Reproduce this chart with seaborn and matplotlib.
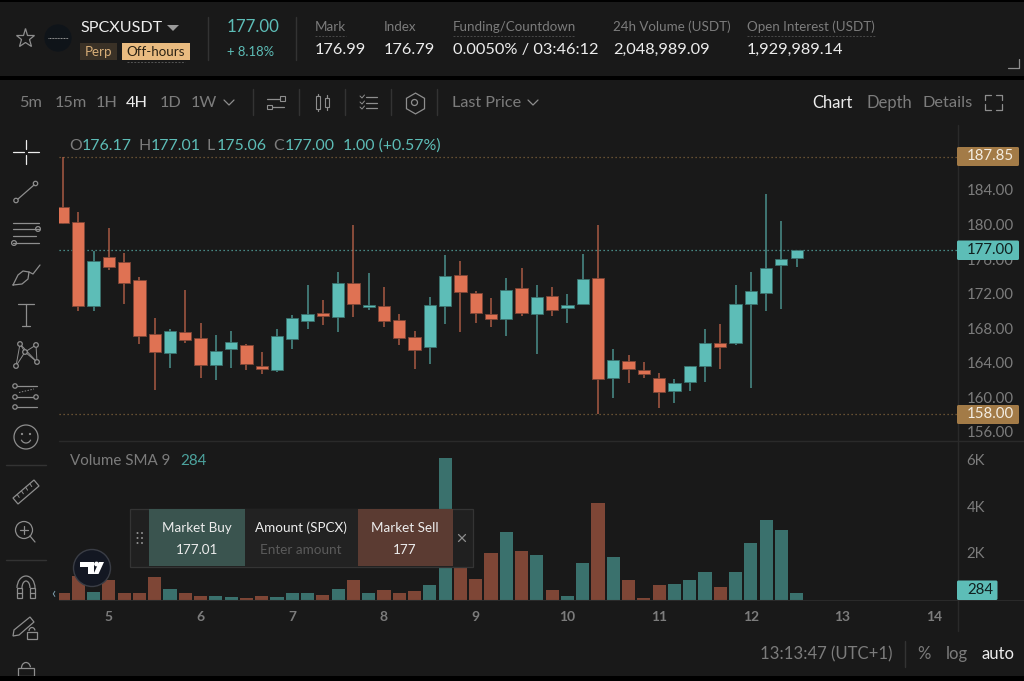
import numpy as np
import pandas as pd
import matplotlib
matplotlib.use("Agg")
import matplotlib.pyplot as plt
from matplotlib.patches import Rectangle, Circle, Polygon, Arc, FancyBboxPatch
import seaborn as sns

# ---- market data: one 4H candle per row position ----
opens = [181.99, 180.25, 170.60, 176.28, 175.70, 173.53, 167.36, 165.08, 167.59, 166.82,
         163.76, 165.54, 166.08, 163.61, 163.11, 166.78, 168.78, 169.75, 169.32, 173.26,
         170.48, 170.60, 168.97, 166.93, 165.81, 170.60, 174.19, 172.10, 169.63, 169.09,
         172.68, 169.67, 171.68, 170.33, 170.83, 173.75, 162.22, 164.15, 163.11, 162.18,
         160.67, 161.72, 163.57, 166.23, 166.23, 170.75, 172.06, 175.27, 176.17]
closes = [180.22, 170.60, 175.78, 175.08, 173.26, 167.05, 165.27, 167.63, 166.58, 163.76,
          165.31, 166.35, 163.88, 163.30, 167.08, 169.17, 169.63, 169.44, 173.18, 170.83,
          170.67, 168.82, 166.85, 165.50, 170.63, 174.00, 172.14, 169.79, 169.09, 172.37,
          169.79, 171.64, 170.13, 170.63, 173.73, 162.06, 164.27, 163.26, 162.72, 160.60,
          161.60, 163.61, 166.23, 165.81, 170.75, 172.30, 174.96, 175.97, 177.00]
highs = [187.85, 181.45, 176.93, 179.56, 176.74, 173.88, 169.13, 167.86, 172.41, 168.59,
         167.16, 167.63, 166.12, 165.27, 167.86, 169.48, 172.95, 171.25, 174.46, 179.94,
         174.34, 172.72, 169.63, 167.66, 171.64, 176.47, 175.77, 172.30, 171.52, 173.76,
         174.92, 172.95, 172.72, 171.95, 176.54, 179.94, 165.54, 164.84, 164.03, 162.84,
         162.06, 163.61, 167.90, 168.47, 172.95, 174.50, 183.50, 180.41, 177.01]
lows = [180.10, 170.02, 170.02, 174.73, 170.83, 166.20, 160.83, 163.38, 166.23, 162.18,
        161.99, 163.38, 163.15, 162.72, 162.95, 165.62, 167.86, 168.40, 167.58, 169.32,
        170.13, 168.09, 166.08, 163.22, 163.88, 168.47, 167.58, 168.59, 168.12, 167.08,
        169.40, 164.99, 169.40, 168.63, 170.83, 158.00, 159.90, 161.68, 162.18, 158.78,
        159.36, 160.71, 161.75, 163.30, 166.08, 161.06, 170.02, 170.17, 175.06]
volumes = [290, 1000, 315, 830, 290, 290, 950, 460, 290, 145,
           130, 100, 85, 130, 100, 260, 290, 200, 460, 860,
           300, 400, 290, 345, 630, 6090, 1700, 900, 2010, 2910,
           2090, 1920, 400, 170, 1560, 4130, 1820, 860, 85, 620,
           660, 820, 1180, 545, 1200, 2450, 3400, 3010, 284]

price_ticks = [156, 160, 164, 168, 172, 176, 180, 184]
volume_ticks = [2000, 4000, 6000]
volume_tick_labels = ["2K", "4K", "6K"]
day_positions = [3, 9, 15, 21, 27, 33, 39, 45, 51, 57]
day_labels = ["5", "6", "7", "8", "9", "10", "11", "12", "13", "14"]
session_high, last_price, session_low = 187.85, 177.00, 158.00

# ---- palette ----
BG = "#191919"
UP, DOWN = "#5DBDB7", "#DF7253"
UP_DIM, DOWN_DIM = "#3A716D", "#7E4636"
GOLD = "#A37B47"
GRID = "#2A2A2A"
MUTED = "#7C7C7C"
WHITE = "#EDEDED"

sns.set_theme(style="dark", rc={"axes.facecolor": BG, "figure.facecolor": BG,
                                "savefig.facecolor": BG})
plt.rcParams["font.family"] = ["Lato", "DejaVu Sans"]

W, H = 1024, 681
fig = plt.figure(figsize=(W / 100, H / 100), dpi=100)


def axes_px(left, top, right, bottom, **kw):
    return fig.add_axes([left / W, 1 - bottom / H, (right - left) / W, (bottom - top) / H], **kw)


frame = pd.DataFrame({"idx": np.arange(len(opens)), "open": opens, "close": closes,
                      "high": highs, "low": lows, "volume": volumes})
frame["side"] = np.where(frame["close"] >= frame["open"], "up", "down")
frame["base"] = frame[["open", "close"]].min(axis=1)
frame["body"] = (frame["close"] - frame["open"]).abs()

x_limits = (-0.262, 58.49)

# ---- price pane ----
ax_p = axes_px(59, 125, 957, 441)
ax_p.set_facecolor(BG)
for side, main, dim in (("up", UP, UP_DIM), ("down", DOWN, DOWN_DIM)):
    part = frame[frame["side"] == side]
    ax_p.vlines(part["idx"], part["low"], part["high"], color=main, lw=1.1, alpha=0.72, zorder=2)
    sns.barplot(x=part["idx"].to_numpy(), y=part["body"].to_numpy(), bottom=part["base"].to_numpy(),
                native_scale=True, color=main, saturation=1, width=0.80, ax=ax_p,
                edgecolor=dim, linewidth=0.6, zorder=3)
for level, col in ((session_high, "#8A6A3E"), (session_low, "#8A6A3E"), (last_price, UP)):
    ax_p.axhline(level, color=col, lw=0.9, ls=(0, (1, 2.2)), alpha=0.9, zorder=1)
ax_p.set_xlim(*x_limits)
ax_p.set_ylim(154.91, 191.53)
ax_p.set_xticks([])
ax_p.set_xlabel("")
ax_p.yaxis.tick_right()
ax_p.set_yticks(price_ticks)
ax_p.set_yticklabels([f"{v:.2f}" for v in price_ticks], fontsize=10.8, color=MUTED)
ax_p.tick_params(axis="y", length=0, pad=7)
ax_p.set_ylabel("")
for s in ax_p.spines.values():
    s.set_visible(False)

# ---- volume pane ----
ax_v = axes_px(59, 441, 957, 599.5)
ax_v.set_facecolor(BG)
sns.barplot(data=frame, x="idx", y="volume", hue="side", native_scale=True, dodge=False,
            palette={"up": UP_DIM, "down": DOWN_DIM}, saturation=1, width=0.86,
            legend=False, ax=ax_v, linewidth=0)
ax_v.set_xlim(*x_limits)
ax_v.set_ylim(0, 6817)
ax_v.set_xticks(day_positions)
ax_v.set_xticklabels(day_labels, fontsize=10, color=MUTED, fontweight="bold")
ax_v.tick_params(axis="x", length=0, pad=8.5)
ax_v.yaxis.tick_right()
ax_v.set_yticks(volume_ticks)
ax_v.set_yticklabels(volume_tick_labels, fontsize=10.8, color=MUTED)
ax_v.tick_params(axis="y", length=0, pad=7)
ax_v.set_xlabel("")
ax_v.set_ylabel("")
for s in ax_v.spines.values():
    s.set_visible(False)

# ---- interface overlay, addressed in screen pixels ----
ui = fig.add_axes([0, 0, 1, 1], zorder=5)
ui.set_xlim(0, W)
ui.set_ylim(H, 0)
ui.axis("off")
ui.patch.set_alpha(0)


def t(x, y, s, size=10.2, color=WHITE, ha="left", **kw):
    ui.text(x, y + 1.2, s, fontsize=size, color=color, ha=ha, va="center", **kw)


def ln(xs, ys, color="#8E8E8E", lw=0.9, **kw):
    ui.plot(xs, ys, color=color, lw=lw, solid_capstyle="round", **kw)


def box(x0, y0, x1, y1, fc, ec="none", lw=0.0, z=2):
    ui.add_patch(Rectangle((x0, y0), x1 - x0, y1 - y0, fc=fc, ec=ec, lw=lw, zorder=z))


def tag(x0, y0, x1, y1, fc):
    ui.add_patch(FancyBboxPatch((x0, y0), x1 - x0, y1 - y0, fc=fc, ec="none", zorder=3,
                                boxstyle="round,pad=0,rounding_size=1.5"))


def ring(x, y, r, color="#8E8E8E", lw=0.9, fc="none"):
    ui.add_patch(Circle((x, y), r, fc=fc, ec=color, lw=lw, zorder=3))


# black separator bands
box(0, 0, W, 1.5, "#000000")
box(0, 75.5, W, 80, "#000000")
box(0, 676, W, H, "#000000")

# header strip
ui.plot(25, 38, marker="*", mfc="none", mec="#8E8E8E", ms=14, mew=0.9)
ring(58, 38, 13, color="#0F1419", fc="#0F1419")
ui.plot([48, 68], [38, 38], color="#9A9A9A", lw=0.7, ls=(0, (1, 0.6)), zorder=4)
t(80, 27, "SPCXUSDT", size=11.6)
ui.add_patch(Polygon([(167, 25), (179, 25), (173, 31)], fc="#9A9A9A", ec="none"))
box(80, 43, 117, 60, "#3A3126")
t(98.5, 51, "Perp", size=9.6, color="#D8AE78", ha="center")
box(122, 43, 190, 60, "#E9BB80")
t(156, 51, "Off-hours", size=9.6, color="#2A2113", ha="center")
ln([127, 185], [61.5, 61.5], color="#555555", lw=0.7, ls=(0, (2, 1.5)))
ln([208, 208], [17, 60], color="#333333", lw=1)
t(227, 26, "177.00", size=12.2, color=UP)
t(227, 51, "+ 8.18%", size=9.4, color=UP)
ln([296, 296], [17, 60], color="#333333", lw=1)

header_cols = [(315, "Mark", "176.99", 346), (384, "Index", "176.79", None),
               (453, "Funding/Countdown", "0.0050% / 03:46:12", 574),
               (613, "24h Volume (USDT)", "2,048,989.09", None),
               (747, "Open Interest (USDT)", "1,929,989.14", 875)]
for x, head, val, dash_end in header_cols:
    t(x, 25.5, head, size=9.6, color=MUTED)
    t(x, 49, val, size=11.8)
    if dash_end:
        ln([x, dash_end], [35.5, 35.5], color="#4A4A4A", lw=0.7, ls=(0, (2, 1.5)))
ln([1008, 1019, 1019], [68, 68, 59], color="#8E8E8E", lw=0.9)

# toolbar
for x, label, col in [(19, "5m", MUTED), (55, "15m", MUTED), (96, "1H", MUTED), (126, "4H", WHITE),
                      (160, "1D", MUTED), (191, "1W", MUTED)]:
    t(x, 101.5, label, size=11.8, color=col)
ln([224, 229, 234], [100, 105, 100])
for x in (252.5, 298.5, 345, 391, 437):
    ln([x, x], [89, 115], color="#333333", lw=1)
ln([267, 280], [99, 99]); ln([267, 284], [107, 107])
ui.add_patch(Rectangle((280, 96), 5, 4.5, fc="none", ec="#8E8E8E", lw=0.8))
ui.add_patch(Rectangle((267, 104.5), 5, 4.5, fc=BG, ec="#8E8E8E", lw=0.8, zorder=3))
for x, y0, y1, w0, w1 in ((318, 96, 109, 94, 111), (327, 98, 107, 95, 110)):
    ui.add_patch(Rectangle((x - 2.2, y0), 4.4, y1 - y0, fc="none", ec="#8E8E8E", lw=0.8))
    ln([x, x], [w0, y0]); ln([x, x], [y1, w1])
for y in (97, 103, 108):
    ln([366, 377], [y, y])
    ln([360, 362, 364.5], [y - 1, y + 1, y - 2], lw=0.7)
ui.plot(414.5, 102.5, marker="h", mfc="none", mec="#8E8E8E", ms=15, mew=0.9)
ring(414.5, 102.5, 3)
t(452, 101.5, "Last Price", size=11.7, color=MUTED)
ln([528, 533, 538], [100, 105, 100])
t(812, 101.5, "Chart", size=12, color=WHITE)
t(866, 101.5, "Depth", size=12, color=MUTED)
t(923, 101.5, "Details", size=11.8, color=MUTED)
ln([985, 985, 991], [100, 95, 95]); ln([996, 1002, 1002], [95, 95, 100])
ln([985, 985, 991], [104, 110, 110]); ln([996, 1002, 1002], [110, 110, 104])

# O/H/L/C readout
for x, s, c in [(69, "O", MUTED), (82, "176.17", UP), (138, "H", MUTED), (151, "177.01", UP),
                (207, "L", MUTED), (217, "175.06", UP), (273, "C", MUTED), (285, "177.00", UP),
                (343, "1.00 (+0.57%)", UP)]:
    t(x, 144.5, s, size=11.4, color=c)

# drawing tools column
ln([13, 24], [152, 152], color=WHITE); ln([28, 39], [152, 152], color=WHITE)
ln([26, 26], [140, 149], color=WHITE); ln([26, 26], [155, 164], color=WHITE)
ln([18, 34], [199, 185]); ring(16, 200.5, 2.2); ring(35.5, 183.5, 2.2)
for y, x0, x1 in ((223, 13, 39), (229, 13, 39), (236, 13, 36), (243, 13, 39)):
    ln([x0, x1], [y, y])
ring(38, 229, 2.4); ring(14, 243, 2.4)
ln([13, 18, 23, 29, 28, 22, 13], [285, 275, 271, 272, 279, 284, 285]); ln([29, 33, 40], [272, 274, 265])
ln([26, 26], [304, 326]); ln([18, 34], [304, 304]); ln([22, 30], [326, 326])
net = [(16, 366), (20, 344), (25, 352), (36, 345), (37, 362)]
for a, b in [(0, 1), (1, 2), (2, 3), (3, 4), (2, 4), (0, 2), (1, 4)]:
    ln([net[a][0], net[b][0]], [net[a][1], net[b][1]], lw=0.7)
for x, y in net:
    ring(x, y, 2.3, fc=BG)
for y in (386, 397, 407):
    ln([17, 37], [y, y])
    ring(15, y, 2.2, fc=BG)
ring(36, 397, 2.2, fc=BG)
ln([19, 34], [392.5, 389], lw=0.7, ls=(0, (1.5, 1.5)))
ring(26, 437, 12)
ring(22, 434, 0.5); ring(30, 434, 0.5)
ui.add_patch(Arc((26, 438), 10, 10, theta1=20, theta2=160, ec="#8E8E8E", lw=0.9))
ln([6, 46], [465, 465], color="#333333", lw=1)
ui.add_patch(Polygon([(13, 498), (34, 480), (39, 486), (18, 504)], fc="none", ec="#8E8E8E", lw=0.9))
for f in (0.2, 0.4, 0.6, 0.8):
    xb, yb = 13 + 21 * f, 498 - 18 * f
    ln([xb, xb + 2], [yb, yb + 3], lw=0.7)
ring(24, 530, 8.5)
ln([20, 28], [530, 530]); ln([24, 24], [526, 534]); ln([30, 35], [536, 542])
ln([6, 46], [560, 560], color="#333333", lw=1)
ui.add_patch(Arc((26, 588), 18, 24, theta1=180, theta2=360, ec="#8E8E8E", lw=0.9))
ui.add_patch(Arc((26, 588), 8, 14, theta1=180, theta2=360, ec="#8E8E8E", lw=0.9))
for a, b in ((17, 22), (30, 35)):
    ui.add_patch(Rectangle((a, 588), b - a, 10, fc="none", ec="#8E8E8E", lw=0.9))
    ln([a, b], [593, 593])
ui.add_patch(Polygon([(14, 630), (30, 617), (34, 622), (19, 635), (13, 636)], fc="none", ec="#8E8E8E", lw=0.9))
ui.add_patch(Rectangle((27, 632), 10, 7, fc=BG, ec="#8E8E8E", lw=0.9, zorder=3))
ui.add_patch(Arc((32, 631), 6, 7, theta1=180, theta2=350, ec="#8E8E8E", lw=0.9))
ui.add_patch(Rectangle((18, 668), 16, 8, fc="none", ec="#8E8E8E", lw=0.9))
ui.add_patch(Arc((26, 668), 9, 11, theta1=180, theta2=350, ec="#8E8E8E", lw=0.9))
t(53, 593, "‹", size=11, color="#7FA0B0", ha="center")

# right-hand price scale tags
ln([957.5, 957.5], [125, 631], color=GRID, lw=1)
ln([59, W], [441, 441], color=GRID, lw=1)
ln([59, W], [599.8, 599.8], color=GRID, lw=0.8)
for y0, y1, fc, s, col in ((147, 166, GOLD, "187.85", "#F4EDE2"),
                           (240.5, 260, UP, "177.00", "#10201F"),
                           (405, 424, GOLD, "158.00", "#F4EDE2")):
    tag(957, y0, 1019, y1, fc)
    ui.text(967, (y0 + y1) / 2, s, fontsize=10.8, color=col, va="center", zorder=4)
tag(957, 580.5, 997.5, 600, UP)
ui.text(967, 590.5, "284", fontsize=10.8, color="#10201F", va="center", zorder=4)

# volume study legend
t(70, 460, "Volume SMA 9", size=10.9, color=MUTED)
t(180, 460, "284", size=10.9, color="#4CA39E")

# quick order panel
box(130, 508.5, 472.5, 566.5, "#202020", ec="#343434", lw=0.9, z=3)
box(149, 509, 245, 566, "#3A544F", z=4)
box(245, 509, 357.5, 566, "#222222", z=4)
box(357.5, 509, 453, 566, "#5B3B32", z=4)
for s, c1, v, c2, x in (("Market Buy", WHITE, "177.01", WHITE, 197),
                        ("Amount (SPCX)", WHITE, "Enter amount", "#5A5A5A", 301),
                        ("Market Sell", WHITE, "177", WHITE, 405)):
    ui.text(x, 527.5, s, fontsize=9.7, color=c1, ha="center", va="center", zorder=6)
    ui.text(x, 549.5, v, fontsize=9.7, color=c2, ha="center", va="center", zorder=6)
for dx in (137.5, 142):
    for dy in (533, 538, 543):
        ui.add_patch(Circle((dx, dy), 1.0, fc="#8E8E8E", ec="none", zorder=6))
ui.plot([458.5, 465.5], [534.5, 541.5], color="#8E8E8E", lw=0.9, zorder=6)
ui.plot([458.5, 465.5], [541.5, 534.5], color="#8E8E8E", lw=0.9, zorder=6)

# broker badge
ui.add_patch(Circle((92, 568), 18.5, fc="#131722", ec="#3A3D45", lw=1, zorder=6))
ui.add_patch(Polygon([(80, 562), (94, 562), (94, 574), (88, 574), (88, 567), (80, 567)],
                     fc="#FFFFFF", ec="none", zorder=7))
ui.add_patch(Circle((96.5, 564), 2.4, fc="#FFFFFF", ec="none", zorder=7))
ui.add_patch(Polygon([(99, 562), (104, 562), (98.5, 574), (93.5, 574)], fc="#FFFFFF", ec="none", zorder=7))

# footer
t(892, 653, "13:13:47 (UTC+1)", size=12.1, color=MUTED, ha="right")
ln([905, 905], [641, 667], color="#333333", lw=1)
t(924, 653, "%", size=12, color=MUTED, ha="center")
t(957, 653, "log", size=12, color=MUTED, ha="center")
t(998, 653, "auto", size=12, color=WHITE, ha="center")

fig.savefig("out.png", dpi=100, facecolor=BG)
